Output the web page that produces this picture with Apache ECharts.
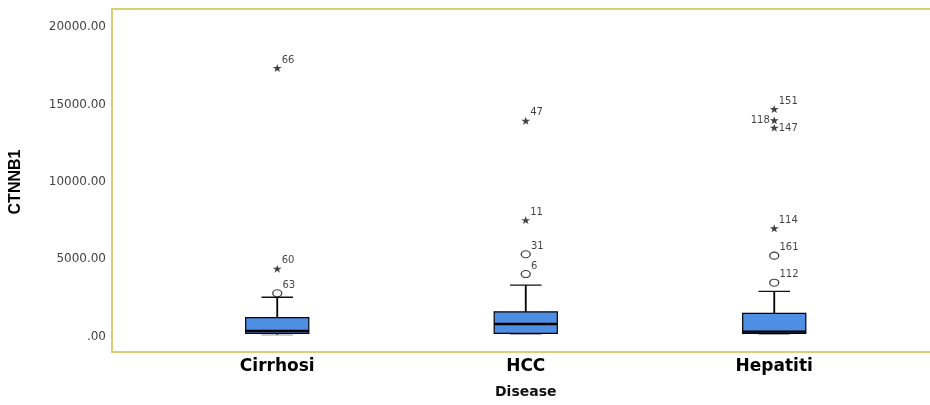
<!DOCTYPE html>
<html>
<head>
<meta charset="utf-8">
<script src="https://cdn.jsdelivr.net/npm/echarts@6/dist/echarts.min.js"></script>
<style>
  html, body { margin: 0; padding: 0; background: #fff; }
  #chart { width: 930px; height: 405px; }
</style>
</head>
<body>
<div id="chart"></div>
<script>
// Groups on the category axis
const categories = ['Cirrhosi', 'HCC', 'Hepatiti'];

// Box statistics per group: [lower whisker, Q1, median, Q3, upper whisker]
const boxStats = [
  [110, 220, 370, 1230, 2550],
  [150, 220, 820, 1600, 3340],
  [150, 220, 330, 1510, 2935]
];

// Outlying cases: case number, group index, value, extreme (star) or mild (circle)
const outlierCase    = ['63', '60', '66', '6', '31', '11', '47', '112', '161', '114', '147', '118', '151'];
const outlierGroup   = [0, 0, 0, 1, 1, 1, 1, 2, 2, 2, 2, 2, 2];
const outlierValue   = [2805, 4400, 17370, 4050, 5330, 7540, 13960, 3490, 5240, 7010, 13510, 13990, 14720];
const outlierExtreme = [false, true, true, false, false, true, true, false, false, true, true, true, true];

// Value axis ticks
const yTicks = [0, 5000, 10000, 15000, 20000];
const yTickLabels = ['.00', '5000.00', '10000.00', '15000.00', '20000.00'];

// Case labels that sit beside (not above) their marker to avoid overlaps
const sideLabelLeft = ['118'];
const sideLabelRight = ['147'];

const STAR = 'path://M50,0 L61,35 L98,35 L68,57 L79,91 L50,70 L21,91 L32,57 L2,35 L39,35 Z';
const FRAME = '#d8d173';

const chart = echarts.init(document.getElementById('chart'), null, { renderer: 'canvas' });

function caseLabel(id) {
  if (sideLabelLeft.includes(id)) return { position: 'left', distance: 0, offset: [0, 0] };
  if (sideLabelRight.includes(id)) return { position: 'right', distance: 0, offset: [0, 1] };
  return { position: 'right', distance: 0, offset: [0, -8] };
}

function outlierData(extreme) {
  const out = [];
  outlierCase.forEach(function (id, i) {
    if (outlierExtreme[i] !== extreme) return;
    out.push({ value: [outlierGroup[i], outlierValue[i], id], label: caseLabel(id) });
  });
  return out;
}

// Box, whiskers and median drawn through the axes' coordinate conversion
function renderBox(params, api) {
  const x = api.value(0);
  const lo = api.coord([x, api.value(1)]);
  const q1 = api.coord([x, api.value(2)]);
  const md = api.coord([x, api.value(3)]);
  const q3 = api.coord([x, api.value(4)]);
  const hi = api.coord([x, api.value(5)]);
  const band = api.size([1, 0])[0];
  const hw = band * 0.127;
  const cw = hw * 0.5;
  const cx = lo[0];
  return {
    type: 'group',
    children: [
      { type: 'line', shape: { x1: cx, y1: hi[1], x2: cx, y2: q3[1] }, style: { stroke: '#000', lineWidth: 1.8 } },
      { type: 'line', shape: { x1: cx - cw, y1: hi[1], x2: cx + cw, y2: hi[1] }, style: { stroke: '#111', lineWidth: 1.3 } },
      { type: 'line', shape: { x1: cx, y1: lo[1], x2: cx, y2: q1[1] }, style: { stroke: '#000', lineWidth: 1.8 } },
      { type: 'line', shape: { x1: cx - cw, y1: lo[1], x2: cx + cw, y2: lo[1] }, style: { stroke: '#999', lineWidth: 1 } },
      { type: 'rect', shape: { x: cx - hw, y: q3[1], width: hw * 2, height: q1[1] - q3[1] },
        style: { fill: '#4f8fe3', stroke: '#000', lineWidth: 1.2 } },
      { type: 'line', shape: { x1: cx - hw, y1: md[1], x2: cx + hw, y2: md[1] }, style: { stroke: '#000', lineWidth: 2.3 } }
    ]
  };
}

const frameAxis = {
  gridIndex: 0, type: 'value', min: 0, max: 1,
  axisLine: { show: true, lineStyle: { color: FRAME, width: 2 } },
  axisTick: { show: false }, axisLabel: { show: false }, splitLine: { show: false }
};

const option = {
  animation: false,
  backgroundColor: '#ffffff',
  grid: [
    { // outer frame: open on the right, running to the canvas edge
      left: 112, top: 9, right: 0, bottom: 53
    },
    { // plotting area
      left: 153, width: 745.5, top: 27.3, height: 309.4
    }
  ],
  xAxis: [
    Object.assign({}, frameAxis, { position: 'bottom' }),
    Object.assign({}, frameAxis, { position: 'top' }),
    {
      gridIndex: 1, type: 'category', data: categories,
      name: 'Disease', nameLocation: 'middle', nameGap: 49,
      nameTextStyle: { fontFamily: 'DejaVu Sans', fontWeight: 'bold', fontSize: 14, color: '#111' },
      axisLine: { show: false }, axisTick: { show: false }, splitLine: { show: false },
      axisLabel: { margin: 21, fontFamily: 'DejaVu Sans', fontWeight: 'bold', fontSize: 17, color: '#000' }
    }
  ],
  yAxis: [
    Object.assign({}, frameAxis, { position: 'left' }),
    {
      gridIndex: 1, type: 'value', min: 0, max: 20000, interval: 5000,
      name: 'CTNNB1', nameLocation: 'middle', nameGap: 129, nameRotate: 90,
      nameTextStyle: { fontFamily: 'Liberation Sans', fontWeight: 'bold', fontSize: 16, color: '#000' },
      axisLine: { show: false }, axisTick: { show: false }, splitLine: { show: false },
      axisLabel: {
        margin: 47, fontFamily: 'DejaVu Sans', fontSize: 12, color: '#444',
        formatter: function (v) { const k = yTicks.indexOf(v); return k >= 0 ? yTickLabels[k] : ''; }
      }
    }
  ],
  series: [
    {
      type: 'custom', xAxisIndex: 2, yAxisIndex: 1,
      renderItem: renderBox,
      data: boxStats.map(function (s, i) { return [i].concat(s); }),
      z: 2
    },
    {
      type: 'scatter', xAxisIndex: 2, yAxisIndex: 1,
      symbol: 'circle', symbolSize: [9, 7],
      itemStyle: { color: '#fff', borderColor: '#111', borderWidth: 1.2 },
      label: {
        show: true, fontFamily: 'DejaVu Sans', fontSize: 10, color: '#111',
        formatter: function (p) { return p.value[2]; }
      },
      data: outlierData(false),
      z: 3
    },
    {
      type: 'scatter', xAxisIndex: 2, yAxisIndex: 1,
      symbol: STAR, symbolSize: [9, 8],
      itemStyle: { color: '#111' },
      label: {
        show: true, fontFamily: 'DejaVu Sans', fontSize: 10, color: '#111',
        formatter: function (p) { return p.value[2]; }
      },
      data: outlierData(true),
      z: 3
    }
  ]
};

chart.setOption(option);
</script>
</body>
</html>
